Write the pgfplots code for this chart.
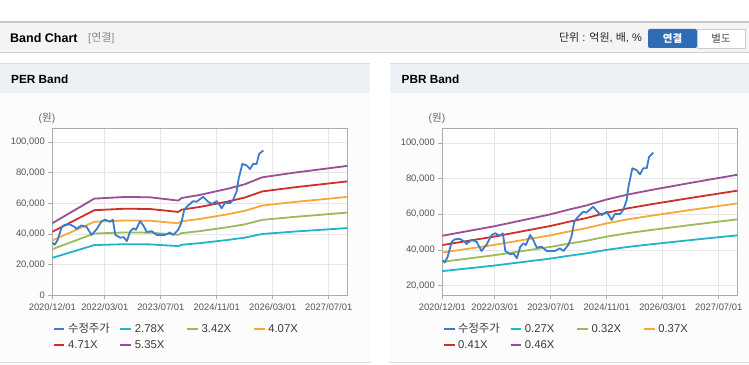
\documentclass[border=0pt]{standalone}
\usepackage{pgfplots}
\pgfplotsset{compat=1.18}
\usepackage{pgfplotstable}
\usepackage{fontspec}
\setmainfont{Liberation Sans}
\newfontfamily\kr{Noto Sans CJK KR}

\definecolor{cprice}{HTML}{3D7CCB}
\definecolor{ccyan}{HTML}{22B5C6}
\definecolor{cgreen}{HTML}{9BBB59}
\definecolor{corange}{HTML}{F6A83B}
\definecolor{cred}{HTML}{CF2F2B}
\definecolor{cpurple}{HTML}{984F98}
\definecolor{gridc}{HTML}{E6E6E6}
\definecolor{axisc}{HTML}{ADADAD}
\definecolor{tickc}{HTML}{555555}
\definecolor{legc}{HTML}{3A3A3A}
\definecolor{hdrfill}{HTML}{F4F4F4}
\definecolor{panelhdr}{HTML}{EDF1F6}
\definecolor{panelbody}{HTML}{FCFCFC}
\definecolor{btnblue}{HTML}{2F6CB3}

% PER band values (won) by months since 2020/12
\pgfplotstableread{
m b1 b2 b3 b4 b5
0 24436 30062 35775 41401 47027
12 32776 40322 47985 55531 63077
21 33360 41040 48840 56520 64200
28 33221 40869 48637 56285 63933
34 32387 39843 47416 54872 62328
36 32109 39501 47009 54401 61793
37 32999 40595 48311 55908 63505
42 34000 41827 49776 57603 65431
50 36084 44392 52829 61136 69443
55 37641 46307 55108 63773 72439
60 40004 49214 58567 67777 76987
69 41561 51129 60847 70415 79983
84.3 43868 53968 64225 74324 84423
}\perband

% PBR band values
\pgfplotstableread{
m b1 b2 b3 b4 b5
0 28161 33376 38591 42763 47978
15 31320 37120 42920 47560 53360
31 35235 41760 48285 53505 60030
36 36720 43520 50320 55760 62560
41 38070 45120 52170 57810 64860
47 40095 47520 54945 60885 68310
53 41715 49440 57165 63345 71070
60 43281 51296 59311 65723 73738
72 45765 54240 62715 69495 77970
84.3 48222 57152 66082 73226 82156
}\pbrband

% adjusted price
\pgfplotstableread{
m p
0 34400
0.7 33000
1.5 36000
2.7 44650
3.6 46000
5 46200
6.4 44650
6.9 43360
8.3 45600
9.8 44650
11.2 39440
12.7 43190
14.1 48400
15.1 49350
16.5 48000
17.3 49350
18 39440
19.4 37600
20.4 37960
21.3 35350
22.3 41850
23.2 43750
23.9 42800
25.1 48400
26 45600
27 41290
28.4 41850
29.8 39440
32.2 39440
33.6 40950
34.6 39440
36 42800
36.9 47450
37.7 55850
38.8 58650
40.3 61450
41.2 61000
43.1 64250
44.6 60900
45.6 59600
47 61450
48.4 56800
49.3 60170
50.8 60170
51.7 62400
52.7 68000
53.2 75460
54.3 85770
55.5 84800
56.5 82400
57.4 85770
58.4 85770
59.1 92270
60.3 94510
}\price

\pgfplotsset{
  bandaxis/.style={
    scale only axis, width=295pt, height=167pt,
    xmin=0, xmax=84.3,
    xtick={0,15,31,47,63,79},
    xticklabels={2020/12/01,2022/03/01,2023/07/01,2024/11/01,2026/03/01,2027/07/01},
    grid=major, major grid style={draw=gridc, line width=0.7pt},
    axis line style={draw=axisc, line width=0.9pt},
    tick pos=left, tick align=outside, major tick length=4pt,
    tick style={draw=axisc, line width=0.7pt},
    ticklabel style={font=\fontsize{9.4}{10}\selectfont, text=tickc},
    xticklabel style={yshift=-1pt},
    scaled y ticks=false,
    /pgf/number format/assume math mode=true,
    /pgf/number format/1000 sep={,},
    /pgf/number format/fixed,
    legend columns=4,
    legend style={draw=none, fill=none, font=\fontsize{11.3}{12}\selectfont, text=legc,
      at={(axis description cs:0.001,-0.168)}, anchor=north west,
      inner sep=0pt, row sep=6.5pt,
      nodes={inner sep=0pt, anchor=base west},
      /tikz/every odd column/.append style={column sep=2.7pt}},
    legend image code/.code={\draw[#1, line width=2pt] (0pt,3.7pt) -- (10.7pt,3.7pt);},
    every axis plot/.append style={line width=1.8pt, line join=round, no marks},
  }
}

\begin{document}
\begin{tikzpicture}[x=1pt,y=1pt]
\useasboundingbox (0,0) rectangle (749,364);
\fill[white] (0,0) rectangle (749,364);
% top header
\fill[hdrfill] (0,311) rectangle (749,342);
\draw[color=black!22, line width=1.6pt] (0,342) -- (749,342);
\draw[color=black!18, line width=1pt] (0,311) -- (749,311);
\node[anchor=west, inner sep=0pt, font=\bfseries\fontsize{12.5}{14}\selectfont] at (10,326) {Band Chart};
\node[anchor=west, inner sep=0pt, font=\fontsize{11}{12}\selectfont, text=black!45] at (88,326) {[{\kr 연결}]};
\node[anchor=east, inner sep=0pt, font=\fontsize{11}{12}\selectfont, text=black!85] at (642,326) {{\kr 단위} : {\kr 억원}, {\kr 배}, \%};
\fill[btnblue, rounded corners=2pt] (648,316) rectangle (697,335);
\node[font=\bfseries\fontsize{10.5}{12}\selectfont, text=white] at (672.5,325.5) {\kr 연결};
\draw[fill=white, draw=black!20] (697,316) rectangle (745,335);
\node[font=\fontsize{10.5}{12}\selectfont, text=black!70] at (721,325.5) {\kr 별도};
% panels
\fill[panelbody] (0,2) rectangle (370,300);
\fill[panelhdr] (0,271.3) rectangle (370,300);
\draw[color=black!14, line width=1pt] (0,300) -- (370,300);
\draw[color=black!14, line width=1pt] (0,1.5) -- (370,1.5);
\fill[panelbody] (390,2) rectangle (749,300);
\fill[panelhdr] (390,271.3) rectangle (749,300);
\draw[color=black!14, line width=1pt] (390,300) -- (749,300);
\draw[color=black!14, line width=1pt] (390,1.5) -- (749,1.5);
\node[anchor=west, inner sep=0pt, font=\bfseries\fontsize{11.8}{13}\selectfont] at (11,285) {PER Band};
\node[anchor=west, inner sep=0pt, font=\bfseries\fontsize{11.8}{13}\selectfont] at (401.5,285) {PBR Band};
\node[font=\fontsize{10.5}{12}\selectfont, text=black!60] at (47,246) {({\kr 원})};
\node[font=\fontsize{10.5}{12}\selectfont, text=black!60] at (437,246) {({\kr 원})};

\begin{axis}[bandaxis, at={(52.3pt,68.7pt)}, anchor=south west,
  ymin=0, ymax=108970, ytick={0,20000,40000,60000,80000,100000}, axis background/.style={fill=white}]
\addlegendimage{cprice}\addlegendentry{\makebox[51.3pt][l]{\kr 수정주가}}
\addlegendimage{ccyan}\addlegendentry{\makebox[51.3pt][l]{2.78X}}
\addlegendimage{cgreen}\addlegendentry{\makebox[51.3pt][l]{3.42X}}
\addlegendimage{corange}\addlegendentry{\makebox[51.3pt][l]{4.07X}}
\addlegendimage{cred}\addlegendentry{\makebox[51.3pt][l]{4.71X}}
\addlegendimage{cpurple}\addlegendentry{\makebox[51.3pt][l]{5.35X}}
\addplot[ccyan, forget plot] table[x=m, y=b1] {\perband};
\addplot[cgreen, forget plot] table[x=m, y=b2] {\perband};
\addplot[corange, forget plot] table[x=m, y=b3] {\perband};
\addplot[cred, forget plot] table[x=m, y=b4] {\perband};
\addplot[cpurple, forget plot] table[x=m, y=b5] {\perband};
\addplot[cprice, forget plot] table[x=m, y=p] {\price};
\end{axis}

\begin{axis}[bandaxis, at={(442.3pt,68.7pt)}, anchor=south west,
  ymin=14620, ymax=108180, ytick={20000,40000,60000,80000,100000}, axis background/.style={fill=white}]
\addlegendimage{cprice}\addlegendentry{\makebox[51.3pt][l]{\kr 수정주가}}
\addlegendimage{ccyan}\addlegendentry{\makebox[51.3pt][l]{0.27X}}
\addlegendimage{cgreen}\addlegendentry{\makebox[51.3pt][l]{0.32X}}
\addlegendimage{corange}\addlegendentry{\makebox[51.3pt][l]{0.37X}}
\addlegendimage{cred}\addlegendentry{\makebox[51.3pt][l]{0.41X}}
\addlegendimage{cpurple}\addlegendentry{\makebox[51.3pt][l]{0.46X}}
\addplot[ccyan, forget plot] table[x=m, y=b1] {\pbrband};
\addplot[cgreen, forget plot] table[x=m, y=b2] {\pbrband};
\addplot[corange, forget plot] table[x=m, y=b3] {\pbrband};
\addplot[cred, forget plot] table[x=m, y=b4] {\pbrband};
\addplot[cpurple, forget plot] table[x=m, y=b5] {\pbrband};
\addplot[cprice, forget plot] table[x=m, y=p] {\price};
\end{axis}
\end{tikzpicture}
\end{document}
